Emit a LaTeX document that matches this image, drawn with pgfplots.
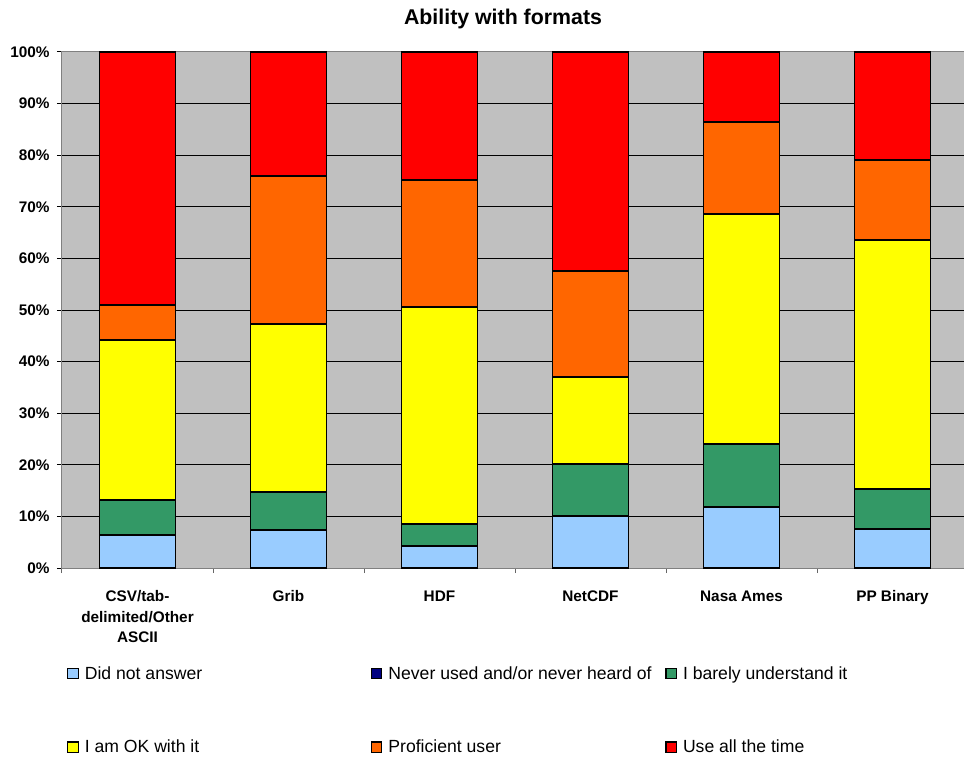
\documentclass[border=0pt]{standalone}
\usepackage{fontspec}
\setmainfont{Liberation Sans}
\usepackage{pgfplots}
\usepackage{pgfplotstable}
\pgfplotsset{compat=1.18}

\definecolor{cNoAns}{HTML}{99CCFF}
\definecolor{cNever}{HTML}{000080}
\definecolor{cBarely}{HTML}{339966}
\definecolor{cOK}{HTML}{FFFF00}
\definecolor{cProf}{HTML}{FF6600}
\definecolor{cAll}{HTML}{FF0000}
\definecolor{plotbg}{HTML}{C0C0C0}

% share of respondents (%) per format and ability level
\pgfplotstableread{
x noans never barely ok prof all
0 6.4  0 6.8  31.0 6.8  49.0
1 7.4  0 7.3  32.6 28.7 24.0
2 4.3  0 4.2  42.1 24.6 24.8
3 10.1 0 10.1 16.8 20.6 42.4
4 11.8 0 12.2 44.6 17.8 13.6
5 7.6  0 7.7  48.3 15.5 20.9
}\formats

\begin{document}
\begin{tikzpicture}
\path[use as bounding box] (0,0) rectangle (723pt,568.5pt);
\node[font=\fontsize{16}{19}\selectfont\bfseries] at (377.25pt,554.25pt) {Ability with formats};
\begin{axis}[
  at={(46.5pt,142.5pt)}, anchor=south west,
  scale only axis, width=679.5pt, height=387pt,
  ybar stacked, bar width=0.5,
  xmin=-0.5, xmax=5.5, ymin=0, ymax=100,
  clip=false,
  axis background/.style={fill=plotbg},
  axis line style={color=black!50, line width=0.75pt},
  ymajorgrids, major grid style={black, line width=0.75pt},
  ytick={0,10,...,100},
  yticklabels={0\%,10\%,20\%,30\%,40\%,50\%,60\%,70\%,80\%,90\%,100\%},
  xtick={0,...,5},
  xticklabels={{CSV/tab-\\delimited/Other\\ASCII},Grib,HDF,NetCDF,{Nasa Ames},{PP Binary}},
  minor xtick={-0.5,0.5,1.5,2.5,3.5,4.5},
  xtick pos=bottom, ytick pos=left,
  tick align=outside,
  major tick length=3.75pt, minor tick length=3.75pt,
  major x tick style={draw=none},
  minor x tick style={black!60, line width=0.75pt},
  ytick style={black, line width=0.75pt},
  ticklabel style={font=\fontsize{11.5}{15.4}\selectfont\bfseries},
  xticklabel style={align=center, yshift=-9.75pt},
  yticklabel style={xshift=-2pt},
  every axis plot/.append style={draw=black, line width=1.1pt},
  legend columns=3,
  legend cell align=left,
  legend style={at={(0.0055,-0.19)}, anchor=north west, draw=none, fill=none,
    font=\fontsize{13.2}{15}\selectfont, inner sep=0pt, row sep=44pt,
    column sep=0pt, nodes={inner sep=0pt},
    /tikz/every odd column/.append style={column sep=4.5pt}},
  legend image code/.code={\draw[#1, line width=0.9pt] (0pt,-3.8pt) rectangle (7.8pt,3.8pt);},
]
\addplot[fill=cNoAns]  table[x=x,y=noans]  {\formats};
\addplot[fill=cNever]  table[x=x,y=never]  {\formats};
\addplot[fill=cBarely] table[x=x,y=barely] {\formats};
\addplot[fill=cOK]     table[x=x,y=ok]     {\formats};
\addplot[fill=cProf]   table[x=x,y=prof]   {\formats};
\addplot[fill=cAll]    table[x=x,y=all]    {\formats};
\legend{\makebox[214.5pt][l]{Did not answer},
        \makebox[207.75pt][l]{Never used and/or never heard of},
        I barely understand it,
        \makebox[214.5pt][l]{I am OK with it},
        \makebox[207.75pt][l]{Proficient user},
        Use all the time}
\end{axis}
\end{tikzpicture}
\end{document}
